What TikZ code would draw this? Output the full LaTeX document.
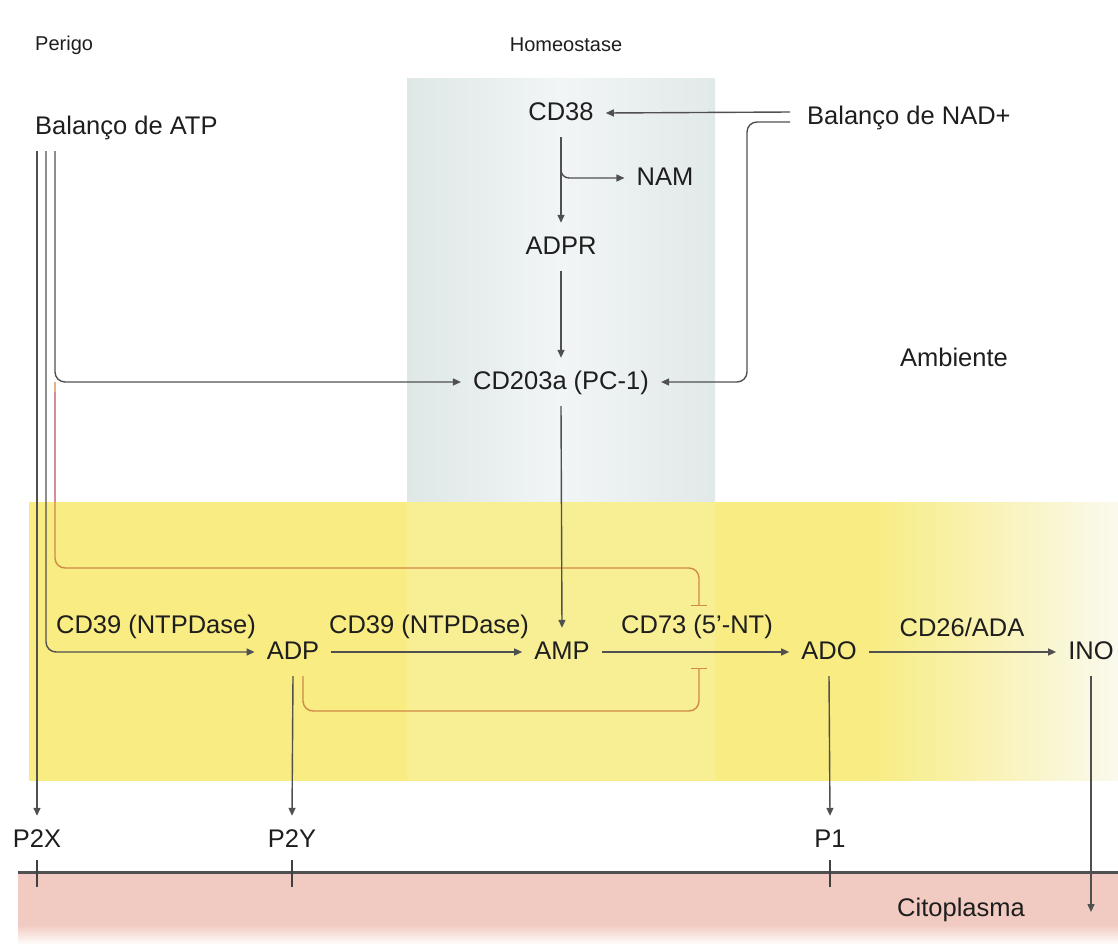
\documentclass[tikz,border=0pt]{standalone}
\usepackage{fontspec}
\setmainfont{Liberation Sans}
\usetikzlibrary{arrows.meta,calc}
\definecolor{txt}{HTML}{1E1E1E}
\definecolor{ln}{HTML}{505050}
\definecolor{colL}{HTML}{DFE7E7}
\definecolor{colM}{HTML}{F1F5F5}
\definecolor{colR}{HTML}{E2E9E9}
\definecolor{yel}{HTML}{F8EC82}
\definecolor{yelEnd}{HTML}{FAFAF3}
\definecolor{pinkc}{HTML}{F1CBC1}
\definecolor{inhc}{HTML}{CF8A45}
\definecolor{inhp}{HTML}{D58C96}
\tikzset{
  lbl/.style={font=\fontsize{25.5}{30}\selectfont, text=txt, inner sep=0pt},
  hdr/.style={font=\fontsize{20}{24}\selectfont, text=txt, inner sep=0pt},
  mol/.style={font=\fontsize{25.5}{30}\selectfont, text=txt, inner sep=12pt,
              text height=19pt, text depth=5pt},
  arr/.style={draw=ln, line width=1.4pt, -{Triangle[length=8pt,width=7pt]}},
  inh/.style={draw=inhc, line width=1.4pt, -{Bar[width=16pt,line width=1.4pt]}},
}
\begin{document}
\begin{tikzpicture}[x=1pt,y=-1pt]
\useasboundingbox (0,0) rectangle (1118,945);
% backgrounds
\shade[left color=colL, right color=colR, middle color=colM] (407,78) rectangle (715,502);
\begin{scope}
  \clip (29,502) rectangle (1118,780);
  \fill[yel] (29,490) rectangle (880,790);
  \shade[left color=yel, right color=yelEnd] (870,480) rectangle (1130,800);
\end{scope}
\fill[white, opacity=0.14] (407,502) rectangle (715,780);
\fill[pinkc] (18,872) rectangle (1118,926);
\shade[top color=pinkc, bottom color=white] (18,925) rectangle (1118,945);
\draw[ln, line width=3pt] (18,872) -- (1118,872);

% headers
\node[hdr, anchor=west] (perigo) at (35,45) {Perigo};
\node[hdr] (homeo) at (566,45) {Homeostase};
\node[lbl, anchor=west] (atp) at (35,128) {Balanço de ATP};
\node[lbl, anchor=west] (nad) at (807,118) {Balanço de NAD+};
\node[lbl] (ambiente) at (954,357) {Ambiente};
\node[lbl] (cito) at (961,910) {Citoplasma};

% molecules
\node[mol] (cd38) at (561,113) {CD38};
\node[mol] (nam) at (665,178) {NAM};
\node[mol] (adpr) at (561,247) {ADPR};
\node[mol] (cd203) at (561,382) {CD203a (PC-1)};
\node[mol] (adp) at (293,652) {ADP};
\node[mol] (amp) at (562,652) {AMP};
\node[mol] (ado) at (829,652) {ADO};
\node[mol] (ino) at (1091,652) {INO};
\node[mol] (p2x) at (37,840) {P2X};
\node[mol] (p2y) at (292,840) {P2Y};
\node[mol] (p1) at (830,840) {P1};

% enzyme labels
\node[lbl] (cd39a) at (156,627) {CD39 (NTPDase)};
\node[lbl] (cd39b) at (429,627) {CD39 (NTPDase)};
\node[lbl] (cd73) at (697,627) {CD73 (5'-NT)};
\node[lbl] (cd26) at (962,627) {CD26/ADA};

% named free ends
\coordinate (a1) at (37,151);
\coordinate (a2) at (46,151);
\coordinate (a3) at (55,151);
\coordinate (n1) at (790,112);
\coordinate (n2) at (790,122);
\coordinate (inhTop) at (699,606);
\coordinate (inhBot) at (699,668);
\coordinate (inoEnd) at (1091,912);
\coordinate (redStart) at (55,382);

% inhibition lines
\draw[inh, rounded corners=10pt] (redStart) |- (699,568) -- (inhTop);
\draw[inhp, line width=1.4pt] (55,392) -- (55,502);
\draw[inh, rounded corners=10pt] ([xshift=10pt]adp.south) |- (699,711) -- (inhBot);

% ATP lines
\draw[arr] (a1) -- (p2x.north);
\draw[arr, rounded corners=10pt] (a2) |- (adp.west);
\draw[arr, rounded corners=10pt] (a3) |- (cd203.west);

% NAD lines
\draw[arr] (n1) -- (cd38.east);
\draw[arr, rounded corners=10pt] (n2) -- (747,122) -- (747,382) -- (cd203.east);

% homeostasis pathway
\draw[arr] (cd38.south) -- (adpr.north);
\draw[arr, rounded corners=8pt] ($(cd38.south)!0.33!(adpr.north)$) |- (nam.west);
\draw[arr] (adpr.south) -- (cd203.north);
\draw[arr] (cd203.south) -- (amp.north);

% main row
\draw[arr] (adp.east) -- (amp.west);
\draw[arr] (amp.east) -- (ado.west);
\draw[arr] (ado.east) -- (ino.west);

% receptors
\draw[arr] (adp.south) -- (p2y.north);
\draw[arr] (ado.south) -- (p1.north);
\draw[arr] (ino.south) -- (inoEnd);

% membrane ticks
\foreach \x in {37,292,830} \draw[ln!80!black, line width=2pt] (\x,860) -- (\x,887);
\end{tikzpicture}
\end{document}
